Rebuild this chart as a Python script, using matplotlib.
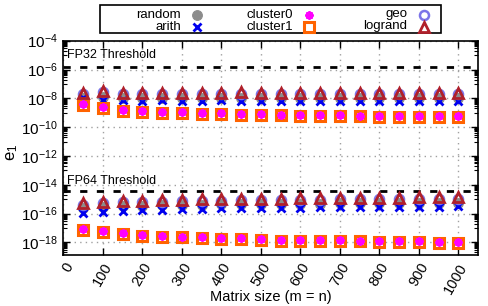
import numpy as np
import matplotlib
matplotlib.use("Agg")
import matplotlib.pyplot as plt
from matplotlib.lines import Line2D
from matplotlib.patches import Rectangle
from matplotlib.ticker import FixedLocator, NullFormatter

plt.rcParams["font.family"] = ["Liberation Sans", "DejaVu Sans"]
plt.rcParams["mathtext.fontset"] = "custom"
plt.rcParams["mathtext.rm"] = "Liberation Sans"
plt.rcParams["mathtext.default"] = "rm"

# ---- data ----
sizes = np.arange(50, 1001, 50)

fp32_random = [1.1e-8, 1.3e-8, 1.1e-8, 1.0e-8, 1.1e-8, 1.0e-8, 1.1e-8, 1.0e-8, 1.1e-8, 1.0e-8,
               1.0e-8, 1.1e-8, 1.0e-8, 1.0e-8, 1.1e-8, 1.0e-8, 1.0e-8, 1.1e-8, 1.0e-8, 1.0e-8]
fp32_arith = [1.0e-8, 8.0e-9, 7.5e-9, 7.0e-9, 7.5e-9, 7.0e-9, 7.0e-9, 7.2e-9, 7.0e-9, 7.0e-9,
              6.8e-9, 7.0e-9, 7.0e-9, 6.8e-9, 7.0e-9, 6.8e-9, 7.0e-9, 6.8e-9, 6.8e-9, 7.0e-9]
fp32_cluster0 = [4.2e-9, 2.3e-9, 1.6e-9, 1.3e-9, 1.15e-9, 1.05e-9, 9.8e-10, 9.0e-10, 8.6e-10, 8.0e-10,
                 7.5e-10, 7.1e-10, 6.9e-10, 6.7e-10, 6.4e-10, 6.2e-10, 6.1e-10, 6.0e-10, 5.9e-10, 5.8e-10]
fp32_cluster1 = [3.6e-9, 2.0e-9, 1.4e-9, 1.15e-9, 1.0e-9, 9.0e-10, 8.5e-10, 7.8e-10, 7.5e-10, 7.0e-10,
                 6.5e-10, 6.2e-10, 6.0e-10, 5.8e-10, 5.6e-10, 5.4e-10, 5.3e-10, 5.2e-10, 5.1e-10, 5.0e-10]
fp32_geo = [1.9e-8, 2.6e-8, 2.0e-8, 1.9e-8, 2.0e-8, 1.9e-8, 1.9e-8, 1.9e-8, 2.0e-8, 1.9e-8,
            1.9e-8, 1.9e-8, 1.9e-8, 1.9e-8, 2.0e-8, 1.9e-8, 1.9e-8, 2.0e-8, 1.9e-8, 1.9e-8]
fp32_logrand = [2.3e-8, 3.2e-8, 2.5e-8, 2.4e-8, 2.5e-8, 2.4e-8, 2.3e-8, 2.4e-8, 2.6e-8, 2.3e-8,
                2.4e-8, 2.3e-8, 2.4e-8, 2.3e-8, 2.4e-8, 2.3e-8, 2.4e-8, 2.5e-8, 2.3e-8, 2.4e-8]

fp64_random = [2.5e-16, 3.0e-16, 3.3e-16, 3.6e-16, 3.8e-16, 4.0e-16, 4.2e-16, 4.4e-16, 4.5e-16, 4.6e-16,
               4.7e-16, 4.8e-16, 4.9e-16, 5.0e-16, 5.0e-16, 5.1e-16, 5.2e-16, 5.2e-16, 5.3e-16, 5.3e-16]
fp64_arith = [1.1e-16, 1.3e-16, 1.5e-16, 1.7e-16, 1.9e-16, 2.0e-16, 2.2e-16, 2.3e-16, 2.4e-16, 2.5e-16,
              2.6e-16, 2.6e-16, 2.7e-16, 2.8e-16, 2.8e-16, 2.9e-16, 2.9e-16, 3.0e-16, 3.0e-16, 3.1e-16]
fp64_cluster0 = [8.4e-18, 6.3e-18, 4.4e-18, 3.3e-18, 2.9e-18, 2.5e-18, 2.2e-18, 2.0e-18, 1.85e-18, 1.7e-18,
                 1.5e-18, 1.5e-18, 1.45e-18, 1.4e-18, 1.3e-18, 1.25e-18, 1.2e-18, 1.15e-18, 1.1e-18, 1.05e-18]
fp64_cluster1 = [7.3e-18, 5.5e-18, 3.8e-18, 2.9e-18, 2.5e-18, 2.2e-18, 1.9e-18, 1.7e-18, 1.6e-18, 1.5e-18,
                 1.3e-18, 1.3e-18, 1.25e-18, 1.2e-18, 1.15e-18, 1.1e-18, 1.05e-18, 1.0e-18, 0.95e-18, 0.9e-18]
fp64_geo = [4.0e-16, 5.1e-16, 6.0e-16, 6.4e-16, 6.8e-16, 7.2e-16, 7.6e-16, 8.0e-16, 8.4e-16, 8.8e-16,
            8.8e-16, 9.2e-16, 9.2e-16, 9.6e-16, 9.6e-16, 1.0e-15, 1.0e-15, 1.04e-15, 1.04e-15, 1.04e-15]
fp64_logrand = [5.0e-16, 6.4e-16, 7.5e-16, 8.0e-16, 8.5e-16, 9.0e-16, 9.5e-16, 1.0e-15, 1.05e-15, 1.1e-15,
                1.1e-15, 1.15e-15, 1.15e-15, 1.2e-15, 1.2e-15, 1.25e-15, 1.25e-15, 1.3e-15, 1.3e-15, 1.3e-15]

fp32_threshold = 1.5e-6
fp64_threshold = 3.6e-15

labels = ["random", "arith", "cluster0", "cluster1", "geo", "logrand"]
styles = {
    "random":   dict(marker="o", ls="none", ms=7, color="#8c8c8c", mec="#8c8c8c", mew=0.8),
    "arith":    dict(marker="x", ls="none", ms=6, color="#0000ee", mew=2),
    "cluster0": dict(marker=(8, 2, 0), ls="none", ms=6, color="#ff00ff", mew=1.5),
    "cluster1": dict(marker="s", ls="none", ms=6.5, mfc="none", mec="#ff6300", mew=2.2),
    "geo":      dict(marker="o", ls="none", ms=6.5, mfc="none", mec="#7b74e8", mew=1.8),
    "logrand":  dict(marker="^", ls="none", ms=6.5, mfc="none", mec="#b0202a", mew=2),
}

fp32 = dict(random=fp32_random, arith=fp32_arith, cluster0=fp32_cluster0,
            cluster1=fp32_cluster1, geo=fp32_geo, logrand=fp32_logrand)
fp64 = dict(random=fp64_random, arith=fp64_arith, cluster0=fp64_cluster0,
            cluster1=fp64_cluster1, geo=fp64_geo, logrand=fp64_logrand)

W, H = 488, 306
fig = plt.figure(figsize=(W / 100, H / 100), dpi=100)
ax = fig.add_axes([63.5 / W, 1 - 255 / H, (478 - 63.5) / W, (255 - 40.7) / H])
ax.set_yscale("log")
ax.set_xlim(0, 1050)
ax.set_ylim(10 ** -18.88, 1e-4)

# thresholds
for thr in (fp32_threshold, fp64_threshold):
    ax.axhline(thr, color="black", lw=2, ls=(0, (2.6, 3.4)), zorder=2)
ax.text(10, 1.1e-5, "FP32 Threshold", fontsize=9, va="center")
ax.text(10, 1.7e-14, "FP64 Threshold", fontsize=9, va="center")

draw_order = ["random", "arith", "cluster1", "cluster0", "geo", "logrand"]
for group in (fp32, fp64):
    for name in draw_order:
        ax.plot(sizes, group[name], zorder=3, **styles[name])

# axes / ticks in gnuplot style
ax.set_xticks(np.arange(0, 1001, 100))
ax.set_xticklabels([str(v) for v in range(0, 1001, 100)], rotation=60,
                   ha="right", va="top", rotation_mode="anchor", fontsize=10.5)
majors = [10.0 ** e for e in range(-18, -3, 2)]
ax.yaxis.set_major_locator(FixedLocator(majors))
ax.set_yticklabels([f"10$^{{{e}}}$" for e in range(-18, -3, 2)], fontsize=11)
minors = [i * 10.0 ** e for e in range(-19, -4, 2) for i in range(1, 10)]
ax.yaxis.set_minor_locator(FixedLocator(minors))
ax.yaxis.set_minor_formatter(NullFormatter())
ax.tick_params(axis="both", which="major", direction="in", length=5, width=1,
               top=True, right=True, pad=4)
ax.tick_params(axis="y", which="minor", direction="in", length=3, width=0.8,
               left=True, right=True)
ax.tick_params(axis="x", which="minor", bottom=False, top=False)
ax.grid(True, which="major", color="#a0a0a0", ls=(0, (1, 3)), lw=1)
for s in ax.spines.values():
    s.set_linewidth(1.2)

ax.set_xlabel("Matrix size (m = n)", fontsize=10.5, va="center")
ax.xaxis.set_label_coords(0.5, (255 - 297) / (255 - 40.7))
ax.set_ylabel("e$_1$", fontsize=12, va="center")
ax.yaxis.set_label_coords((12 - 63.5) / (478 - 63.5), (255 - 152) / (255 - 40.7))

# gnuplot-like key: text right-aligned, marker after it
fig.add_artist(Rectangle((100 / W, 1 - 33 / H), 341 / W, 28 / H,
                         transform=fig.transFigure, fill=False, lw=1.2, ec="black"))
text_right = [181, 181, 293, 293, 407, 407]
mark_x = [197, 197, 309, 309, 424, 424]
row_y = [14.5, 26.5, 14.5, 26.5, 14.5, 26.5]
for name, tx, mx, ry in zip(labels, text_right, mark_x, row_y):
    fig.text(tx / W, 1 - ry / H, name, ha="right", va="center", fontsize=9.5)
    fig.add_artist(Line2D([mx / W], [1 - ry / H], transform=fig.transFigure, **styles[name]))

fig.savefig("out.png", dpi=100)
